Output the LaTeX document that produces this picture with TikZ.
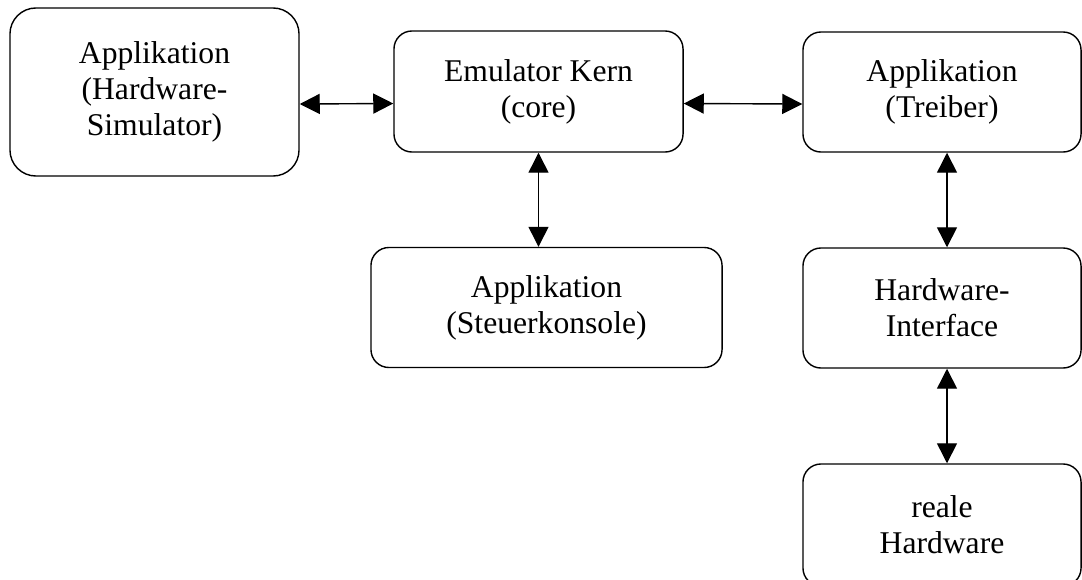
\documentclass[tikz,border=0pt]{standalone}
\usepackage{fontspec}
\setmainfont{Liberation Serif}
\usetikzlibrary{arrows.meta}

\begin{document}
\begin{tikzpicture}[
        x=0.025cm, y=-0.025cm,
        every node/.style={draw, rounded corners=0.45cm, align=center, line width=1pt, inner sep=0pt,
            font=\fontsize{22.5}{25.5}\selectfont},
        >={Triangle[length=0.5cm, width=0.5cm]},
        line width=1pt
    ]
        \useasboundingbox (0,0) rectangle (1082,579);

        \node[minimum width=7.225cm, minimum height=4.2cm, rounded corners=0.65cm] (hwsim) at (154.5,92) {Applikation\\(Hardware-\\Simulator)};
        \node[minimum width=7.225cm, minimum height=3.025cm] (core) at (538.5,91.5) {Emulator Kern\\(core)};
        \node[minimum width=6.95cm, minimum height=3cm] (treiber) at (942,92) {Applikation\\(Treiber)};
        \node[minimum width=8.775cm, minimum height=3cm] (konsole) at (546.5,307.5) {Applikation\\(Steuerkonsole)};
        \node[minimum width=6.95cm, minimum height=3cm] (hwif) at (942,308) {Hardware-\\Interface};
        \node[minimum width=6.95cm, minimum height=3.05cm] (realhw) at (942,525) {reale\\Hardware};

        \draw[<->] ([yshift=-0.3cm]hwsim.east) -- ([yshift=-0.3cm]core.west);
        \draw[<->] ([yshift=-0.3cm]core.east) -- ([yshift=-0.3cm]treiber.west);
        \draw[<->] (core.south) -- (core.south |- konsole.north);

        \draw[<->] ([xshift=0.125cm]treiber.south) -- ([xshift=0.125cm]hwif.north);
        \draw[<->] ([xshift=0.125cm]hwif.south) -- ([xshift=0.125cm]realhw.north);
    \end{tikzpicture}
\end{document}
